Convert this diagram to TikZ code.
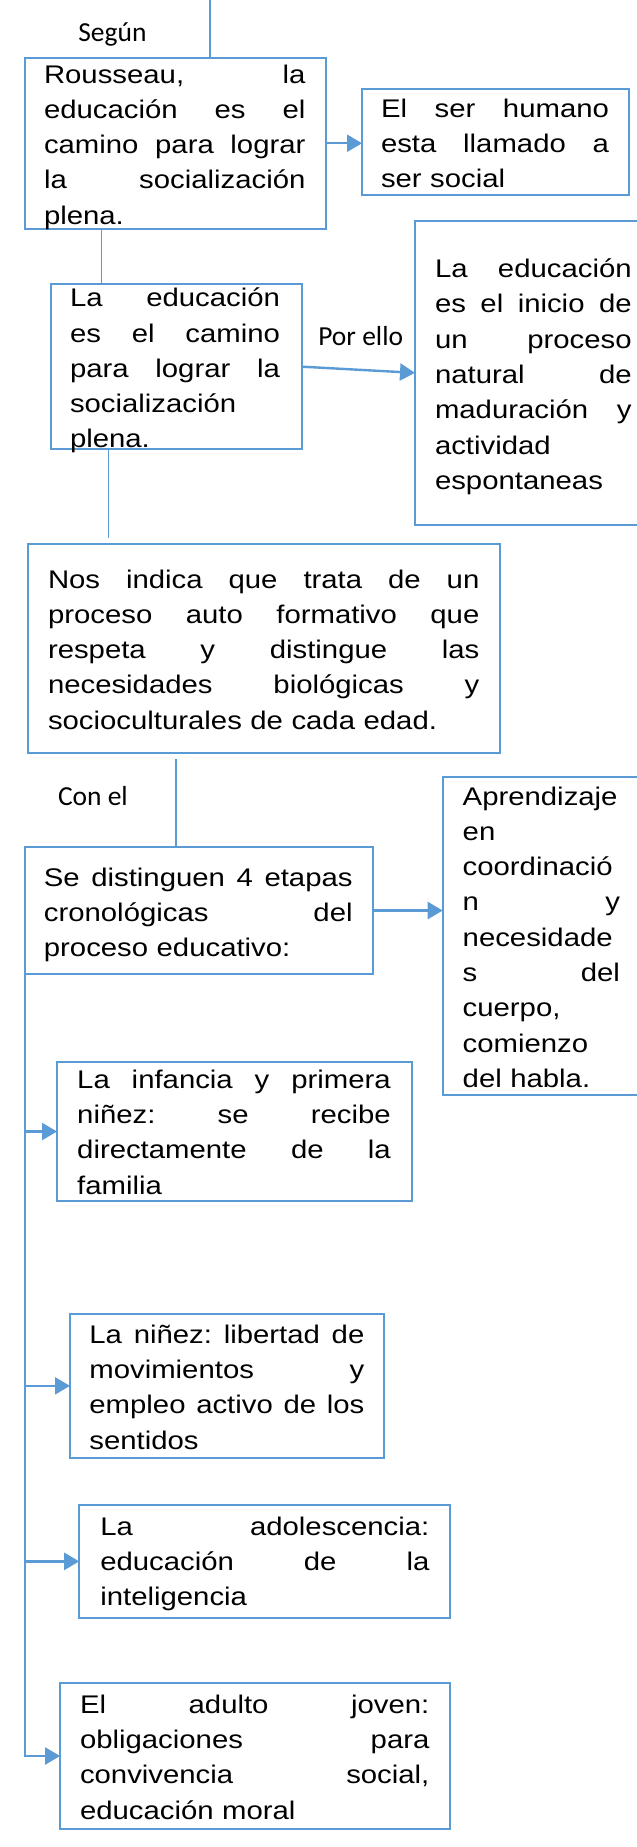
\documentclass[tikz,border=0pt]{standalone}
\usepackage{fontspec}
\usetikzlibrary{arrows.meta}
\newfontfamily\arialx{Liberation Sans}[FakeStretch=1.15]
\newfontfamily\calib{Carlito}
\definecolor{wblue}{HTML}{5B9BD5}
\newcommand\JL[1]{\leavevmode\hbox to \hsize{#1}\\}
\newcommand\FS{\rule{0pt}{25pt}}
\tikzset{
  box/.style={draw=wblue, line width=2pt, rectangle, inner sep=0pt, outer sep=0pt, anchor=north west},
  txt/.style={inner sep=0pt, outer sep=0pt, anchor=north west, align=left,
    font=\arialx\fontsize{25.5pt}{35.3pt}\selectfont},
  lab/.style={inner sep=0pt, outer sep=0pt, anchor=base west,
    font=\calib\fontsize{27.5pt}{33pt}\selectfont},
  conn/.style={draw=wblue, line width=1.3pt},
  arr/.style={draw=wblue, line width=2.4pt, -{Triangle[length=15pt,width=17pt]}}
}
\begin{document}
\begin{tikzpicture}[x=1pt,y=-1pt]
\useasboundingbox (0,0) rectangle (637,1847);
\clip (0,0) rectangle (637,1847);
\fill[white] (0,0) rectangle (637,1847);

% boxes
\node[box, minimum width=301pt, minimum height=171.5pt] (A) at (25,57.5) {};
\node[box, minimum width=267pt, minimum height=106pt] (B) at (362,89) {};
\node[box, minimum width=250.5pt, minimum height=165.3pt] (C) at (51,284) {};
\node[box, minimum width=285pt, minimum height=304.3pt] (D) at (415,220.7) {};
\node[box, minimum width=472.1pt, minimum height=209pt] (E) at (27.6,544.3) {};
\node[box, minimum width=257.3pt, minimum height=317.7pt] (F) at (442.7,777.3) {};
\node[box, minimum width=347.8pt, minimum height=127.6pt] (G) at (25.2,846.7) {};
\node[box, minimum width=355.3pt, minimum height=139pt] (H) at (57,1062) {};
\node[box, minimum width=314pt, minimum height=143.7pt] (I) at (70,1314) {};
\node[box, minimum width=370.8pt, minimum height=112.7pt] (J) at (79.2,1505) {};
\node[box, minimum width=389.9pt, minimum height=146.6pt] (K) at (60.1,1682.7) {};

% texts
\node[txt, text width=261.5pt] (At) at (44,58) {\FS\JL{Rousseau,\hfill la}\JL{educación\hfill es\hfill el}\JL{camino\hfill para\hfill lograr}\JL{la\hfill socialización}plena.};
\node[txt, text width=228pt] (Bt) at (381,92) {\FS\JL{El\hfill ser\hfill humano}\JL{esta\hfill llamado\hfill a}ser social};
\node[txt, text width=210pt] (Ct) at (70,281.7) {\FS\JL{La\hfill educación}\JL{es\hfill el\hfill camino}\JL{para\hfill lograr\hfill la}socialización\\plena.};
\node[txt, text width=196.7pt] (Dt) at (435,252.5) {\FS\JL{La\hfill educación}\JL{es\hfill el\hfill inicio\hfill de}\JL{un\hfill proceso}\JL{natural\hfill de}\JL{maduración\hfill y}actividad\\espontaneas};
\node[txt, text width=431.4pt] (Et) at (48,563) {\FS\JL{Nos\hfill indica\hfill que\hfill trata\hfill de\hfill un}\JL{proceso\hfill auto\hfill formativo\hfill que}\JL{respeta\hfill y\hfill distingue\hfill las}\JL{necesidades\hfill biológicas\hfill y}socioculturales de cada edad.};
\node[txt, text width=157.3pt] (Ft) at (462.7,780) {\FS Aprendizaje\\en\\coordinació\\\JL{n\hfill y}necesidade\\\JL{s\hfill del}cuerpo,\\comienzo\\del habla.};
\node[txt, text width=308.7pt] (Gt) at (43.9,861) {\FS\JL{Se\hfill distinguen\hfill 4\hfill etapas}\JL{cronológicas\hfill del}proceso educativo:};
\node[txt, text width=313.6pt] (Ht) at (77.2,1063.3) {\FS\JL{La\hfill infancia\hfill y\hfill primera}\JL{niñez:\hfill se\hfill recibe}\JL{directamente\hfill de\hfill la}familia};
\node[txt, text width=275pt] (It) at (89.4,1318.3) {\FS\JL{La\hfill niñez:\hfill libertad\hfill de}\JL{movimientos\hfill y}\JL{empleo\hfill activo\hfill de\hfill los}sentidos};
\node[txt, text width=329.1pt] (Jt) at (100.3,1510) {\FS\JL{La\hfill adolescencia:}\JL{educación\hfill de\hfill la}inteligencia};
\node[txt, text width=349.4pt] (Kt) at (80,1688.3) {\FS\JL{El\hfill adulto\hfill joven:}\JL{obligaciones\hfill para}\JL{convivencia\hfill social,}educación moral};

% labels
\node[lab] (l1) at (78.3,41.7) {Según};
\node[lab] (l2) at (318.3,345) {Por ello};
\node[lab] (l3) at (58,805) {Con el};

% connectors
\coordinate (topEnd) at (210,0);
\draw[conn] (topEnd) -- (topEnd |- A.north);
\coordinate (xAC) at (101.6,0);
\draw[conn] (xAC |- A.south) -- (xAC |- C.north);
\coordinate (xCE) at (108.5,0);
\draw[conn, shorten >=6pt] (xCE |- C.south) -- (xCE |- E.north);
\coordinate (xEG) at (176,0);
\draw[conn, shorten <=6pt] (xEG |- E.south) -- (xEG |- G.north);

\draw[arr] (A.east) -- (A.east -| B.west);
\draw[arr] (C.east) -- (D.west);
\draw[arr] (G.east) -- (G.east -| F.west);

\draw[arr] (G.west) -- (G.west |- K.west) -- (K.west);
\draw[arr] (G.west |- H.west) -- (H.west);
\draw[arr] (G.west |- I.west) -- (I.west);
\draw[arr] (G.west |- J.west) -- (J.west);
\end{tikzpicture}
\end{document}
